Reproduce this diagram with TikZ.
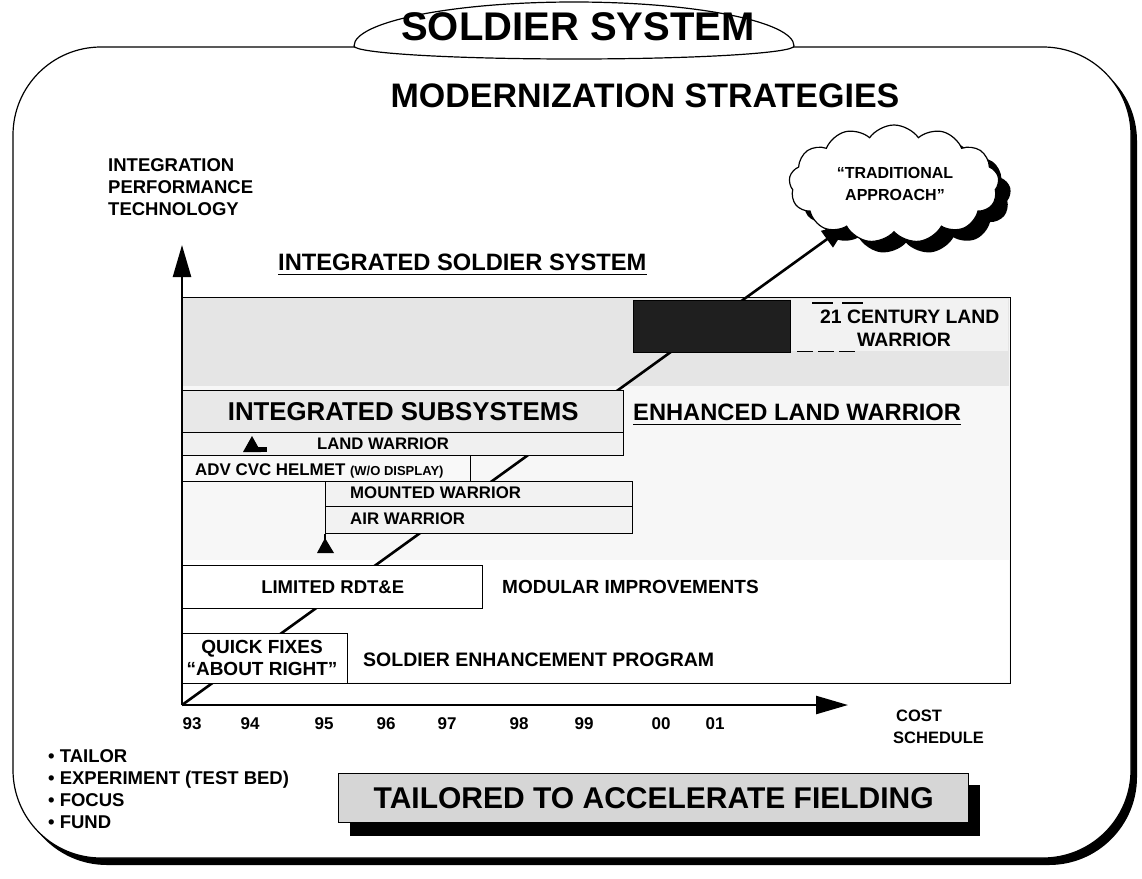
\documentclass[tikz,border=0pt]{standalone}
\usepackage{graphicx}
\usepackage{fontspec}
\setmainfont{Liberation Sans}
\usetikzlibrary{shapes.geometric,shapes.symbols,arrows.meta}
\newcommand\fsz[2][1.2]{\fontsize{#2}{\fpeval{#1*#2}}\selectfont\bfseries}
\begin{document}
\begin{tikzpicture}[x=1pt,y=-1pt,
  every node/.style={inner sep=0pt},
  bx/.style={draw, line width=1.4pt, anchor=north west},
  axisline/.style={line width=2.4pt},
  ul/.style={line width=1.8pt}]
\useasboundingbox (0,0) rectangle (1142,878);
% outer frame with shadow
\fill[black, rounded corners=88] (19,53) rectangle (1137,865);
\draw[fill=white, line width=1.2pt, rounded corners=88] (13,47) rectangle (1131,858);
% title lozenge: tips on the frame line
\draw[line width=1.2pt, fill=white] (354,46) arc[start angle=180, end angle=360, x radius=220, y radius=44]
  arc[start angle=0, end angle=180, x radius=220, y radius=13] -- cycle;
\node[font=\fsz{40}] (titletext) at (578,27) {SOLDIER SYSTEM};
\node[font=\fsz{34}] (modern) at (645,96) {MODERNIZATION STRATEGIES};
\node[font={\fsz[1.2]{18.5}}, align=left, anchor=north west] (ylab) at (108,158) {INTEGRATION\\PERFORMANCE\\TECHNOLOGY};
% main box
\node[bx, fill=gray!6, minimum width=828, minimum height=386] (main) at (182,297) {};
\fill[gray!20] (183,298) rectangle (1009,386);
\fill[gray!10] (791,299) rectangle (1008,351);
\fill[white] (183,560) rectangle (1009,682);
% diagonal arrow
\coordinate (o) at (182,705);
\coordinate (tip) at (848,224);
\draw[line width=2.6pt, -{Triangle[length=26,width=20]}] (o) -- (tip);
% sub boxes
\node[bx, fill=gray!18, minimum width=441, minimum height=42, font=\fsz{25.8}] (isub) at (182,390) {INTEGRATED SUBSYSTEMS};
\node[bx, fill=gray!12, minimum width=441, minimum height=23] (lw) at (182,432) {};
\node[font=\fsz{16.7}] (lwt) at (383,444) {LAND WARRIOR};
\node[bx, fill=gray!5, minimum width=288, minimum height=26] (cvc) at (182,455) {};
\node[font=\fsz{16.9}, anchor=base west] (cvct) at (195,475) {ADV CVC HELMET {\fsz{13}(W/O DISPLAY)}};
\node[bx, fill=gray!10, minimum width=307, minimum height=25] (mw) at (325,481) {};
\node[font=\fsz{16.8}, anchor=west] (mwt) at (350,493) {MOUNTED WARRIOR};
\node[bx, fill=gray!10, minimum width=307, minimum height=27] (aw) at (325,506) {};
\node[font=\fsz{16.8}, anchor=west] (awt) at (350,519) {AIR WARRIOR};
\draw[line width=1.4pt] (aw.south west) -- ++(0,6);
\node[bx, fill=white, minimum width=300, minimum height=43, font=\fsz{18.5}] (rdte) at (182,565) {LIMITED RDT\&E};
\node[font=\fsz{19}, anchor=west] (modular) at (502,587) {MODULAR IMPROVEMENTS};
\node[bx, fill=white, minimum width=165, minimum height=50] (quick) at (182,633) {};
\node[font={\fsz[1.12]{19}}, align=center] (quickt) at (262,658) {QUICK FIXES\\“ABOUT RIGHT”};
\node[font=\fsz{19.5}, anchor=west] (sep) at (363,660) {SOLDIER ENHANCEMENT PROGRAM};
% milestone markers
\fill (252,436) -- (243,452) -- (261,452) -- cycle;
\fill (258,447) rectangle (267,452);
\fill (325,538) -- (317,553) -- (334,553) -- cycle;
% dark box and dashes
\node[bx, fill=black!88, minimum width=157, minimum height=52, draw=black] (adv) at (633,300) {};
\draw[line width=1.6pt, dash pattern=on 21pt off 9pt] ([xshift=21,yshift=-3]adv.north east) -- ++(52,0);
\draw[line width=1.6pt, dash pattern=on 16pt off 5pt] ([xshift=6,yshift=2]adv.south east) -- ++(62,0);
\node[font=\fsz{19.4}, anchor=west] (c21) at (820,317) {21 CENTURY LAND};
\node[font=\fsz{19.4}, anchor=west] (c21b) at (857,340) {WARRIOR};
% headings
\node[font=\fsz{23.7}, anchor=base west] (iss) at (278,270) {INTEGRATED SOLDIER SYSTEM};
\draw[ul] ([yshift=-4]iss.south west) -- ([yshift=-4]iss.south east);
\node[font=\fsz{23.7}, anchor=base west] (elw) at (633,420) {ENHANCED LAND WARRIOR};
\draw[ul] ([yshift=-4]elw.south west) -- ([yshift=-4]elw.south east);
% axes
\coordinate (ytip) at (182,245);
\coordinate (xtip) at (848,705);
\draw[axisline, -{Triangle[length=32,width=18]}] (o) -- (ytip);
\draw[axisline, -{Triangle[length=32,width=18]}] (o) -- (xtip);
\foreach \yr/\xx in {93/192,94/250,95/324,96/386,97/447,98/519,99/584,00/661,01/715}
  \node[font=\fsz{17}] (yr\yr) at (\xx,724) {\yr};
\node[font=\fsz{16.5}, anchor=west] (cost) at (896,716) {COST};
\node[font=\fsz{16.5}, anchor=west] (sched) at (893,738) {SCHEDULE};
% cloud
\node[cloud, cloud puffs=13, cloud puff arc=110, fill=black, minimum width=210, minimum height=118] (cloudsh) at (906,195) {};
\node[cloud, cloud puffs=13, cloud puff arc=110, draw, line width=1.2pt, fill=white, minimum width=210, minimum height=118] (cloud) at (894,184) {};
\node[font={\fsz[1.4]{16}}, align=center] (cloudt) at (895,184) {“TRADITIONAL\\APPROACH”};
% bottom
\node[font={\fsz[1.2]{18.5}}, align=left, anchor=north west] (bullets) at (48,749) {• TAILOR\\• EXPERIMENT (TEST BED)\\• FOCUS\\• FUND};
\fill[black] (350,785) rectangle (980,836);
\node[bx, fill=gray!32, minimum width=630, minimum height=49] (tail) at (338,773) {};
\node[font=\fsz{30}] (tailt) at (tail.center) {TAILORED TO ACCELERATE FIELDING};
\end{tikzpicture}
\end{document}
